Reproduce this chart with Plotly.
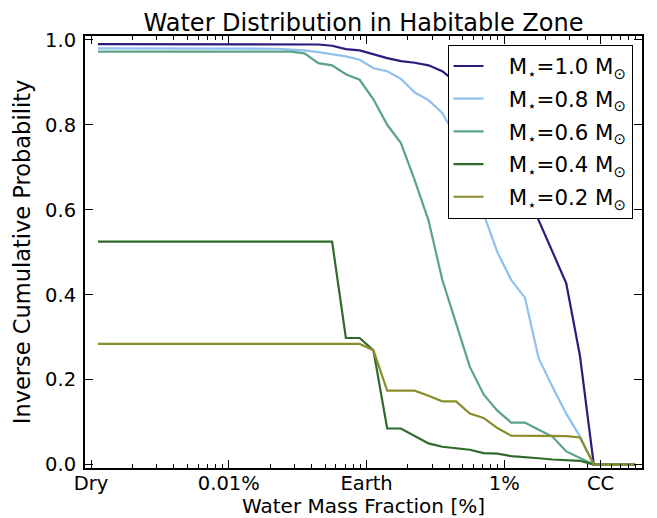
import plotly.graph_objects as go

# bin centres, log10 of water mass fraction in percent
log_wmf = [-2.95, -2.85, -2.75, -2.65, -2.55, -2.45, -2.35, -2.25, -2.15, -2.05,
           -1.95, -1.85, -1.75, -1.65, -1.55, -1.45, -1.35, -1.25, -1.15, -1.05,
           -0.95, -0.85, -0.75, -0.65, -0.55, -0.45, -0.35, -0.25, -0.15, -0.05,
           0.05, 0.15, 0.25, 0.35, 0.45, 0.55, 0.65, 0.75, 0.85, 0.95]
wmf = [10 ** v for v in log_wmf]

p_10 = [0.99, 0.99, 0.99, 0.99, 0.99, 0.99, 0.99, 0.99, 0.99, 0.99,
        0.99, 0.99, 0.99, 0.99, 0.99, 0.99, 0.989, 0.986, 0.978, 0.975,
        0.966, 0.957, 0.950, 0.946, 0.940, 0.926, 0.90, 0.87, 0.83, 0.78,
        0.72, 0.65, 0.575, 0.50, 0.427, 0.255, 0.0, 0.0, 0.0, 0.0]
p_08 = [0.98, 0.98, 0.98, 0.98, 0.98, 0.98, 0.98, 0.98, 0.98, 0.98,
        0.98, 0.98, 0.98, 0.979, 0.977, 0.975, 0.971, 0.966, 0.961, 0.953,
        0.933, 0.926, 0.908, 0.876, 0.858, 0.828, 0.77, 0.69, 0.59, 0.50,
        0.435, 0.393, 0.25, 0.183, 0.12, 0.066, 0.0, 0.0, 0.0, 0.0]
p_06 = [0.972, 0.972, 0.972, 0.972, 0.972, 0.972, 0.972, 0.972, 0.972, 0.972,
        0.972, 0.972, 0.972, 0.972, 0.972, 0.968, 0.945, 0.940, 0.919, 0.906,
        0.860, 0.800, 0.757, 0.669, 0.575, 0.435, 0.333, 0.230, 0.165, 0.127,
        0.099, 0.099, 0.082, 0.066, 0.031, 0.016, 0.0, 0.0, 0.0, 0.0]
p_04 = [0.525, 0.525, 0.525, 0.525, 0.525, 0.525, 0.525, 0.525, 0.525, 0.525,
        0.525, 0.525, 0.525, 0.525, 0.525, 0.525, 0.525, 0.525, 0.298, 0.298,
        0.269, 0.085, 0.085, 0.068, 0.050, 0.042, 0.039, 0.035, 0.027, 0.026,
        0.020, 0.018, 0.015, 0.012, 0.010, 0.009, 0.0, 0.0, 0.0, 0.0]
p_02 = [0.284, 0.284, 0.284, 0.284, 0.284, 0.284, 0.284, 0.284, 0.284, 0.284,
        0.284, 0.284, 0.284, 0.284, 0.284, 0.284, 0.284, 0.284, 0.284, 0.284,
        0.269, 0.174, 0.174, 0.174, 0.162, 0.149, 0.149, 0.120, 0.110, 0.086,
        0.068, 0.068, 0.068, 0.068, 0.067, 0.064, 0.0, 0.0, 0.0, 0.0]

series = [("1.0", p_10, "#2c1b7d"),
          ("0.8", p_08, "#8fc0ee"),
          ("0.6", p_06, "#5aa38a"),
          ("0.4", p_04, "#2e6b28"),
          ("0.2", p_02, "#8a8d2a")]

tick_vals = [0.001, 0.01, 0.1, 1, 5]
tick_text = ["Dry", "0.01%", "Earth", "1%", "CC"]
minor_vals = [m * 10 ** e for e in range(-3, 1) for m in range(2, 10)]

FONT = "DejaVu Sans"
PAD = "\u00a0\u00a0\u00a0"

fig = go.Figure()
for i, (mass, vals, col) in enumerate(series):
    fig.add_trace(go.Scatter(
        x=wmf, y=vals, mode="lines",
        line=dict(color=col, width=2.2),
        name=PAD + "M<sub>⋆</sub>=%s M<sub>⊙</sub>" % mass,
        legendgroup=f"g{i}",
    ))

fig.update_layout(
    width=657, height=518,
    margin=dict(l=85, r=15, t=36, b=50),
    paper_bgcolor="white", plot_bgcolor="white",
    font=dict(family=FONT, size=19.5, color="black"),
    title=dict(text="Water Distribution in Habitable Zone",
               x=0.5, xref="paper", xanchor="center",
               y=1, yref="paper", yanchor="bottom",
               pad=dict(b=5),
               font=dict(size=24, family=FONT, color="black")),
    showlegend=True,
    legend=dict(x=0.983, y=0.98, xanchor="right", yanchor="top",
                bgcolor="white", bordercolor="black", borderwidth=1,
                font=dict(size=21.3, family=FONT, color="black"),
                tracegroupgap=2, traceorder="grouped"),
)

fig.update_xaxes(
    type="log", range=[-3.044, 1.0],
    tickmode="array", tickvals=tick_vals, ticktext=tick_text,
    ticks="inside", ticklen=8, tickwidth=1.2, tickcolor="black",
    showline=True, linewidth=2, linecolor="black", mirror="allticks",
    showgrid=False, zeroline=False, automargin=False,
    ticklabelstandoff=-3,
    minor=dict(tickmode="array", tickvals=minor_vals, ticks="inside",
               ticklen=4, tickwidth=1, tickcolor="black", showgrid=False),
    title=dict(text="Water Mass Fraction [%]", standoff=16,
               font=dict(size=20, family=FONT)),
    tickfont=dict(size=19.5, family=FONT),
)
fig.update_yaxes(
    range=[-0.008, 1.009],
    tickmode="linear", tick0=0, dtick=0.2, tickformat=".1f",
    ticks="inside", ticklen=8, tickwidth=1.2, tickcolor="black",
    showline=True, linewidth=2, linecolor="black", mirror="allticks",
    showgrid=False, zeroline=False, automargin=False,
    ticklabelstandoff=3,
    title=dict(text="Inverse Cumulative Probability", standoff=8,
               font=dict(size=22.5, family=FONT)),
    tickfont=dict(size=19.5, family=FONT),
)

fig.write_html("out.html")
